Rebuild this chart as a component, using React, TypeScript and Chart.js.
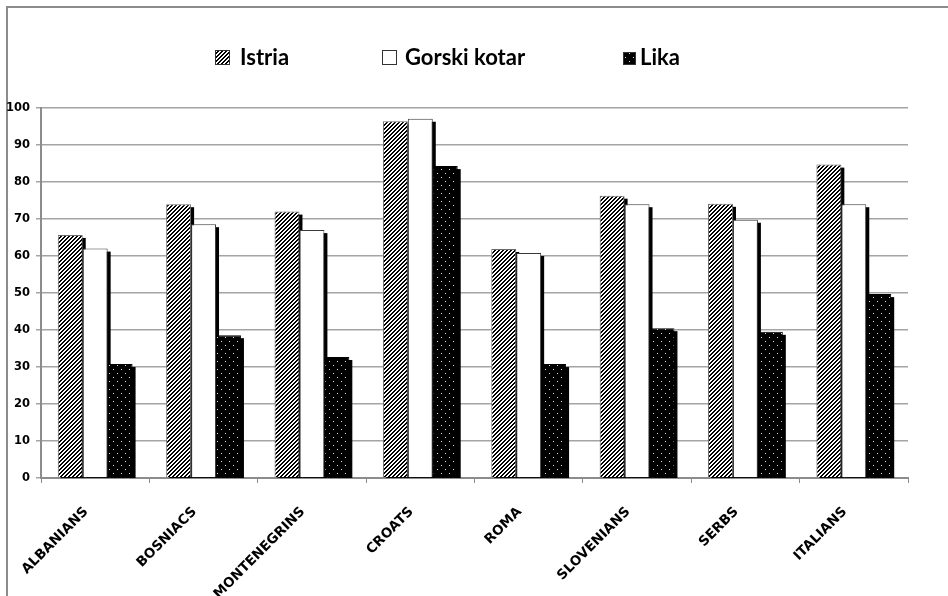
import React, { useEffect, useRef } from 'react';
import { Chart, registerables } from 'chart.js';

Chart.register(...registerables);

const categories = ['ALBANIANS', 'BOSNIACS', 'MONTENEGRINS', 'CROATS', 'ROMA', 'SLOVENIANS', 'SERBS', 'ITALIANS'];
const seriesLabels = ['Istria', 'Gorski kotar', 'Lika'];
const istria = [65.7, 74, 72, 96.4, 61.9, 76.3, 74.1, 84.7];
const gorskiKotar = [62, 68.6, 67, 97.1, 60.8, 74, 69.8, 74];
const lika = [30.8, 38.6, 32.7, 84.3, 30.8, 40.5, 39.5, 49.7];
const yMin = 0;
const yMax = 100;
const yStep = 10;

function makeHatch(ctx: CanvasRenderingContext2D) {
  const c = document.createElement('canvas');
  c.width = 4;
  c.height = 4;
  const g = c.getContext('2d')!;
  g.fillStyle = '#ffffff';
  g.fillRect(0, 0, 4, 4);
  g.fillStyle = '#000000';
  for (let y = 0; y < 4; y++) {
    for (let x = 0; x < 4; x++) {
      if ((x + y) % 4 < 2) g.fillRect(x, y, 1, 1);
    }
  }
  return ctx.createPattern(c, 'repeat')!;
}

function makeDots(ctx: CanvasRenderingContext2D) {
  const c = document.createElement('canvas');
  c.width = 8;
  c.height = 8;
  const g = c.getContext('2d')!;
  g.fillStyle = '#000000';
  g.fillRect(0, 0, 8, 8);
  g.fillStyle = '#e6e6e6';
  g.fillRect(1, 1, 1, 1);
  g.fillRect(5, 5, 1, 1);
  return ctx.createPattern(c, 'repeat')!;
}

const shadowPlugin = {
  id: 'barShadow',
  beforeDatasetsDraw(chart: any) {
    const ctx = chart.ctx as CanvasRenderingContext2D;
    const area = chart.chartArea;
    ctx.save();
    ctx.beginPath();
    ctx.rect(area.left, area.top, area.right - area.left, area.bottom - area.top);
    ctx.clip();
    ctx.fillStyle = '#000000';
    chart.data.datasets.forEach((_ds: any, i: number) => {
      const meta = chart.getDatasetMeta(i);
      meta.data.forEach((el: any) => {
        const { x, y, base, width } = el.getProps(['x', 'y', 'base', 'width'], true);
        ctx.fillRect(x - width / 2 + 3, y + 3, width, base - y);
      });
    });
    ctx.restore();
  },
};

const legendBoxX = [215, 382, 623];
const legendTextX = [240, 405, 640];

const legendPlugin = {
  id: 'customLegend',
  afterDraw(chart: any) {
    const ctx = chart.ctx as CanvasRenderingContext2D;
    ctx.save();
    chart.data.datasets.forEach((ds: any, i: number) => {
      const bx = legendBoxX[i];
      const size = i === 2 ? 13 : 15;
      const by = 65 - size;
      ctx.fillStyle = ds.backgroundColor;
      ctx.fillRect(bx, by, size, size);
      ctx.strokeStyle = '#333333';
      ctx.lineWidth = 1;
      ctx.strokeRect(bx + 0.5, by + 0.5, size - 1, size - 1);
      ctx.fillStyle = '#000000';
      ctx.font = 'bold 22px Lato';
      ctx.textBaseline = 'alphabetic';
      ctx.textAlign = 'left';
      ctx.fillText(ds.label, legendTextX[i], 65);
    });
    ctx.restore();
  },
};

export default function App() {
  const ref = useRef<HTMLCanvasElement>(null);

  useEffect(() => {
    const canvas = ref.current!;
    const ctx = canvas.getContext('2d')!;
    const hatch = makeHatch(ctx);
    const dots = makeDots(ctx);
    const chart = new Chart(canvas, {
      type: 'bar',
      data: {
        labels: categories,
        datasets: [
          { label: seriesLabels[0], data: istria, backgroundColor: hatch as any, borderColor: '#6a6a6a', borderWidth: 1 },
          { label: seriesLabels[1], data: gorskiKotar, backgroundColor: '#ffffff', borderColor: '#3a3a3a', borderWidth: 1 },
          { label: seriesLabels[2], data: lika, backgroundColor: dots as any, borderColor: '#000000', borderWidth: 1 },
        ],
      },
      options: {
        animation: false,
        responsive: false,
        devicePixelRatio: 1,
        layout: { padding: { top: 108, right: 40, bottom: 0, left: 0 } },
        datasets: { bar: { categoryPercentage: 0.69, barPercentage: 1 } } as any,
        plugins: {
          legend: { display: false },
          tooltip: { enabled: false },
        },
        scales: {
          x: {
            afterFit: (scale: any) => {
              scale.height = 118;
            },
            grid: {
              display: true,
              drawOnChartArea: false,
              drawTicks: true,
              tickLength: 5,
              offset: true,
              color: '#8c8c8c',
              lineWidth: 1,
            },
            border: { display: true, color: '#8c8c8c', width: 2 },
            ticks: {
              autoSkip: false,
              maxRotation: 45,
              minRotation: 45,
              padding: 21,
              labelOffset: -9,
              color: '#000000',
              font: { family: 'DejaVu Sans', weight: 'bold', size: 13.5 },
            },
          },
          y: {
            min: yMin,
            max: yMax,
            afterFit: (scale: any) => {
              scale.width = 41;
            },
            grid: {
              color: '#a4a4a4',
              lineWidth: 1.5,
              tickLength: 5,
            },
            border: { display: true, color: '#8c8c8c', width: 2 },
            ticks: {
              stepSize: yStep,
              padding: 6,
              color: '#000000',
              font: { family: 'DejaVu Sans', weight: 'bold', size: 11.5 },
            },
          },
        },
      },
      plugins: [shadowPlugin, legendPlugin],
    });
    return () => chart.destroy();
  }, []);

  return (
    <div style={{ position: 'fixed', left: 0, top: 0, width: 948, height: 596, background: '#ffffff', overflow: 'hidden' }}>
      <div
        style={{
          position: 'absolute',
          left: 6,
          top: 6,
          width: 960,
          height: 620,
          borderTop: '2px solid #8c8c8c',
          borderLeft: '2px solid #8c8c8c',
        }}
      />
      <canvas ref={ref} width={948} height={596} style={{ position: 'absolute', left: 0, top: 0, width: 948, height: 596 }} />
    </div>
  );
}
